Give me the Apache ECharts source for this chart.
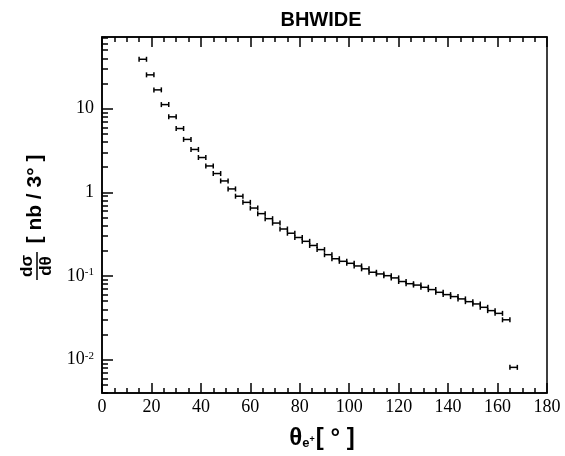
<!DOCTYPE html>
<html>
<head>
<meta charset="utf-8">
<script src="https://cdn.jsdelivr.net/npm/echarts@6/dist/echarts.min.js"></script>
<style>html,body{margin:0;padding:0;background:#fff}#c{width:565px;height:456px}</style>
</head>
<body>
<div id="c"></div>
<script>
// Bin lower edges (degrees) and bin width
const thetaLow = [15,18,21,24,27,30,33,36,39,42,45,48,51,54,57,60,63,66,69,72,75,78,81,84,87,90,93,96,99,102,105,108,111,114,117,120,123,126,129,132,135,138,141,144,147,150,153,156,159,162,165];
const binWidth = 3;
// dσ/dθ [nb / 3°]
const dsigma = [39,25.4,16.8,11.2,8.0,5.8,4.3,3.26,2.61,2.07,1.68,1.37,1.10,0.90,0.76,0.65,0.557,0.485,0.43,0.365,0.325,0.289,0.26,0.232,0.207,0.18,0.161,0.150,0.142,0.132,0.122,0.111,0.106,0.101,0.095,0.086,0.081,0.078,0.0734,0.0689,0.0639,0.060,0.0568,0.0533,0.0494,0.0464,0.0423,0.0386,0.0358,0.030,0.0081];
// Axis ticks
const yMajorTicks = [0.01, 0.1, 1, 10];
const yMinorTicks = [0.004,0.005,0.006,0.007,0.008,0.009,0.02,0.03,0.04,0.05,0.06,0.07,0.08,0.09,0.2,0.3,0.4,0.5,0.6,0.7,0.8,0.9,2,3,4,5,6,7,8,9,20,30,40,50,60,70];
const yTickLabels = {'0.01':'10{sup|-2}','0.1':'10{sup|-1}','1':'1','10':'10'};

const chart = echarts.init(document.getElementById('c'), null, {renderer:'canvas'});
const data = thetaLow.map((t,i)=>[t, t+binWidth, dsigma[i]]);
const serif = 'Liberation Serif, Times New Roman, serif';
const sans = 'Liberation Sans, Arial, Helvetica, sans-serif';
const yLo = 0.004, yHi = 72;
const axisCommonX = {
  type:'value', min:0, max:180, interval:20,
  axisLine:{show:true, lineStyle:{color:'#000', width:1.5}},
  axisTick:{show:true, inside:true, length:10, lineStyle:{color:'#000', width:1.5}},
  minorTick:{show:true, splitNumber:4, length:5, lineStyle:{color:'#000', width:1.5}},
  splitLine:{show:false}
};
chart.setOption({
  animation:false,
  backgroundColor:'#fff',
  grid:{left:102, right:18, top:37, bottom:63, show:true, borderColor:'#000', borderWidth:1.5, containLabel:false},
  xAxis:[
    Object.assign({}, axisCommonX, {position:'bottom',
      axisLabel:{show:true, margin:5, fontFamily:serif, fontSize:18, color:'#000'}}),
    Object.assign({}, axisCommonX, {position:'top', axisLabel:{show:false}})
  ],
  yAxis:[
    {type:'log', logBase:10, min:yLo, max:yHi, position:'left',
     axisLine:{show:true, lineStyle:{color:'#000', width:1.5}},
     axisTick:{show:true, inside:true, length:11, customValues:yMajorTicks, lineStyle:{color:'#000', width:1.5}},
     axisLabel:{show:true, margin:8, customValues:yMajorTicks, fontFamily:serif, fontSize:18, color:'#000',
       formatter:(v)=>yTickLabels[String(+v.toPrecision(3))] || '',
       rich:{sup:{fontFamily:serif, fontSize:11, color:'#000', verticalAlign:'top', padding:[0,0,8,0]}}},
     splitLine:{show:false}},
    {type:'log', logBase:10, min:yLo, max:yHi, position:'left',
     axisLine:{show:false},
     axisTick:{show:true, inside:true, length:6, customValues:yMinorTicks, lineStyle:{color:'#000', width:1.5}},
     axisLabel:{show:false},
     splitLine:{show:false}}
  ],
  series:[{
    type:'custom', xAxisIndex:0, yAxisIndex:0,
    data:data,
    renderItem:(params, api)=>{
      const y = api.value(2);
      const p0 = api.coord([api.value(0), y]);
      const p1 = api.coord([api.value(1), y]);
      const h = 2.5;
      const st = {stroke:'#000', lineWidth:1.5};
      return {type:'group', children:[
        {type:'line', shape:{x1:p0[0], y1:p0[1], x2:p1[0], y2:p1[1]}, style:st},
        {type:'line', shape:{x1:p0[0], y1:p0[1]-h, x2:p0[0], y2:p0[1]+h}, style:st},
        {type:'line', shape:{x1:p1[0], y1:p1[1]-h, x2:p1[0], y2:p1[1]+h}, style:st}
      ]};
    }
  }],
  graphic:[
    {type:'text', x:321, y:20, style:{text:'BHWIDE', font:'bold 20px '+sans, fill:'#000', align:'center', verticalAlign:'middle'}},
    {type:'text', x:322, y:438, style:{
      text:'{t|θ}{e|e}{p|+}{b|[ ° ]}', align:'center', verticalAlign:'middle',
      rich:{
        t:{font:'bold 24px '+sans, fill:'#000', verticalAlign:'middle'},
        e:{font:'bold 13px '+sans, fill:'#000', verticalAlign:'bottom', padding:[0,0,0,0]},
        p:{font:'bold 9px '+sans, fill:'#000', verticalAlign:'bottom', padding:[0,1,6,0]},
        b:{font:'bold 24px '+sans, fill:'#000', verticalAlign:'middle'}
      }}},
    {type:'group', x:37, y:211, rotation:Math.PI/2, children:[
      {type:'text', x:12, y:-2, style:{text:'[ nb / 3° ]', font:'bold 21px '+sans, fill:'#000', align:'center', verticalAlign:'middle'}},
      {type:'line', shape:{x1:-69, y1:0, x2:-41, y2:0}, style:{stroke:'#000', lineWidth:1.5}},
      {type:'text', x:-55, y:-1, style:{text:'dσ', font:'bold 17px '+sans, fill:'#000', align:'center', verticalAlign:'bottom'}},
      {type:'text', x:-55, y:1, style:{text:'dθ', font:'bold 17px '+sans, fill:'#000', align:'center', verticalAlign:'top'}}
    ]}
  ]
});
</script>
</body>
</html>
